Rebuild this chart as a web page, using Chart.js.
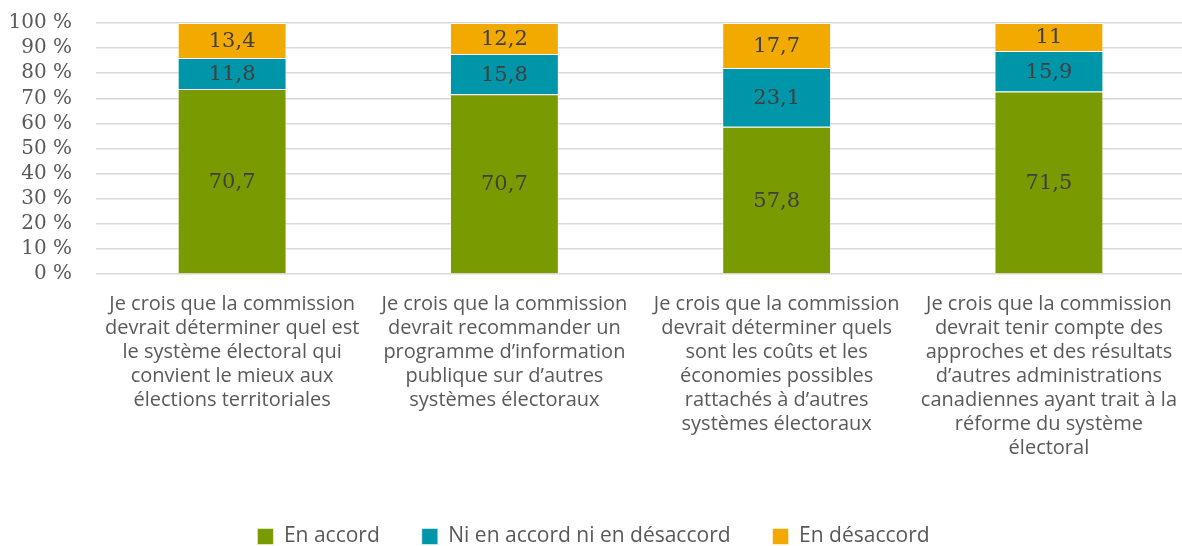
<!DOCTYPE html>
<html lang="fr">
<head>
<meta charset="utf-8">
<script src="https://cdn.jsdelivr.net/npm/chart.js@4/dist/chart.umd.min.js"></script>
<style>
  html, body { margin: 0; padding: 0; background: #fff; overflow: hidden; }
  #wrap { width: 1187px; height: 557px; }
</style>
</head>
<body>
<div id="wrap"><canvas id="chart"></canvas></div>
<script>
const CATEGORIES = [
    ['Je crois que la commission', 'devrait déterminer quel est', 'le système électoral qui', 'convient le mieux aux', 'élections territoriales'],
    ['Je crois que la commission', 'devrait recommander un', 'programme d’information', 'publique sur d’autres', 'systèmes électoraux'],
    ['Je crois que la commission', 'devrait déterminer quels', 'sont les coûts et les', 'économies possibles', 'rattachés à d’autres', 'systèmes électoraux'],
    ['Je crois que la commission', 'devrait tenir compte des', 'approches et des résultats', 'd’autres administrations', 'canadiennes ayant trait à la', 'réforme du système', 'électoral']
];
const SERIES_NAMES = ['En accord', 'Ni en accord ni en désaccord', 'En désaccord'];
const EN_ACCORD = [70.7, 70.7, 57.8, 71.5];
const NI_NI = [11.8, 15.8, 23.1, 15.9];
const EN_DESACCORD = [13.4, 12.2, 17.7, 11];
const COLORS = ['#7A9A01', '#0096A9', '#F2AA00'];
const Y_TICKS = [0, 10, 20, 30, 40, 50, 60, 70, 80, 90, 100];

const rawSeries = [EN_ACCORD, NI_NI, EN_DESACCORD];
// 100 % empilé : chaque barre ramenée au total de la catégorie
const totals = CATEGORIES.map((c, i) => rawSeries.reduce((s, arr) => s + arr[i], 0));

const barLabels = {
    id: 'barLabels',
    afterDatasetsDraw(chart) {
        const ctx = chart.ctx;
        ctx.save();
        ctx.font = '21px "DejaVu Serif"';
        ctx.fillStyle = '#404040';
        ctx.textAlign = 'center';
        ctx.textBaseline = 'middle';
        chart.data.datasets.forEach((ds, di) => {
            chart.getDatasetMeta(di).data.forEach((bar, i) => {
                const txt = String(ds.raw[i]).replace('.', ',');
                ctx.fillText(txt, bar.x, (bar.y + bar.base) / 2 + 1);
            });
        });
        ctx.restore();
    }
};

new Chart(document.getElementById('chart'), {
    type: 'bar',
    data: {
        labels: CATEGORIES,
        datasets: rawSeries.map((arr, k) => ({
            label: SERIES_NAMES[k],
            raw: arr,
            data: arr.map((v, i) => v / totals[i] * 100),
            backgroundColor: COLORS[k],
            borderColor: 'rgba(255,255,255,0.5)',
            borderWidth: 1,
            categoryPercentage: 1,
            barPercentage: 0.4
        }))
    },
    options: {
        responsive: true,
        maintainAspectRatio: false,
        animation: false,
        layout: { padding: { top: 23, left: 0, right: 0, bottom: 0 } },
        scales: {
            x: {
                stacked: true,
                afterFit: (s) => { s.height = 210; },
                grid: { display: false },
                border: { display: false },
                ticks: {
                    autoSkip: false,
                    minRotation: 0,
                    maxRotation: 0,
                    padding: 10,
                    color: '#595959',
                    font: { family: 'Open Sans', size: 20, lineHeight: 1.2 }
                }
            },
            y: {
                stacked: true,
                min: 0,
                max: 100,
                afterFit: (s) => { s.width = 96; s.paddingTop = 0; s.paddingBottom = 0; },
                afterBuildTicks: (s) => { s.ticks = Y_TICKS.map(v => ({ value: v })); },
                grid: { color: '#D9D9D9', lineWidth: 1.5, drawTicks: false },
                border: { display: false },
                ticks: {
                    autoSkip: false,
                    padding: 24,
                    color: '#595959',
                    font: { family: 'DejaVu Serif', size: 20 },
                    callback: (v) => v + ' %'
                }
            }
        },
        plugins: {
            legend: {
                position: 'bottom',
                labels: {
                    boxWidth: 16,
                    boxHeight: 16,
                    padding: 42,
                    color: '#595959',
                    font: { family: 'Open Sans', size: 21 }
                }
            },
            tooltip: { enabled: false }
        }
    },
    plugins: [barLabels]
});
</script>
</body>
</html>
